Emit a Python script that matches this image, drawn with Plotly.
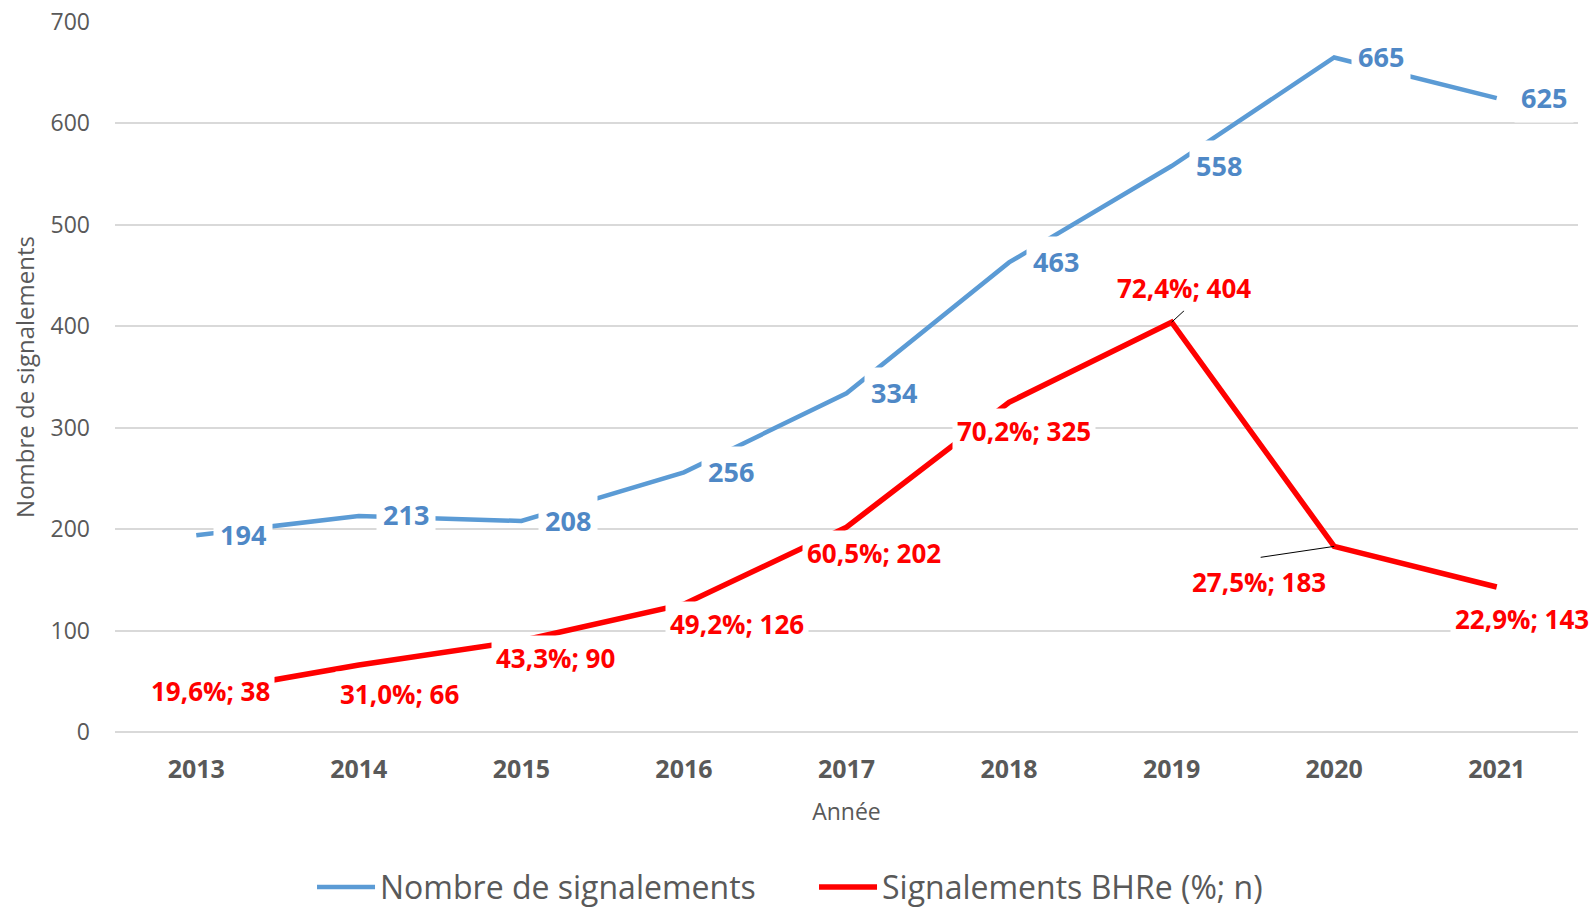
import plotly.graph_objects as go

years = [2013, 2014, 2015, 2016, 2017, 2018, 2019, 2020, 2021]
nombre = [194, 213, 208, 256, 334, 463, 558, 665, 625]
bhre_n = [38, 66, 90, 126, 202, 325, 404, 183, 143]
bhre_pct = ["19,6%", "31,0%", "43,3%", "49,2%", "60,5%", "70,2%", "72,4%", "27,5%", "22,9%"]

BLUE = "#5B9BD5"
BLUE_TXT = "#4F88C6"
RED = "#FF0000"
GREY = "#595959"
FONT = "Open Sans"

# label placement offsets (pixels) for the red data labels: (dx, dy_down)
red_off = [(14, -2), (41, 29), (34, 17), (53, 20), (27, 26), (15, 29),
           (12, -34), (-75, 36), (25, 32)]
# leader lines (pixel offsets of the line's far end), None = no leader
red_leader = [None, None, None, None, None, None, (13, -12), (-74, 11), None]

fig = go.Figure()
fig.add_trace(go.Scatter(x=years, y=nombre, mode="lines", name="Nombre de signalements",
                         line=dict(color=BLUE, width=4.5)))
fig.add_trace(go.Scatter(x=years, y=bhre_n, mode="lines", name="Signalements BHRe (%; n)",
                         line=dict(color=RED, width=5.5)))

ann = []
for x, v in zip(years, nombre):
    ann.append(dict(x=x, y=v, xref="x", yref="y", text=str(v), showarrow=False,
                    xanchor="left", yanchor="middle", xshift=17, yshift=1,
                    bgcolor="white", borderpad=6,
                    font=dict(family=FONT, size=27, color=BLUE_TXT, weight="bold")))
for x, v, p, (dx, dy), lead in zip(years, bhre_n, bhre_pct, red_off, red_leader):
    if lead is not None:
        ann.append(dict(x=x, y=v, xref="x", yref="y", text=" ", showarrow=True,
                        ax=lead[0], ay=lead[1], arrowhead=0, arrowwidth=1,
                        arrowcolor="black", standoff=0, borderpad=0,
                        font=dict(size=1)))
    ann.append(dict(x=x, y=v, xref="x", yref="y", text=f"{p}; {v}", showarrow=False,
                    xanchor="center", yanchor="middle", xshift=dx, yshift=-dy,
                    bgcolor="white", borderpad=4,
                    font=dict(family=FONT, size=26, color=RED, weight="bold")))

fig.update_layout(
    width=1593, height=909,
    margin=dict(l=115, r=15, t=22, b=177, autoexpand=False),
    paper_bgcolor="white", plot_bgcolor="white",
    annotations=ann,
    showlegend=True,
    legend=dict(orientation="h", xref="container", yref="container", x=0.511, y=0.024,
                xanchor="center", yanchor="middle", itemwidth=58, entrywidth=429,
                font=dict(family=FONT, size=32, color=GREY)),
    xaxis=dict(range=[2012.5, 2021.5], dtick=1, tick0=2013, showgrid=False, showline=False,
               zeroline=False, ticks="", automargin=False,
               tickfont=dict(family=FONT, size=25, color=GREY, weight="bold"),
               ticklabelstandoff=20,
               title=dict(text="Année", standoff=19, font=dict(family=FONT, size=23, color=GREY))),
    yaxis=dict(range=[0, 700], dtick=100, showgrid=True, gridcolor="#D9D9D9", gridwidth=1.5,
               zeroline=True, zerolinecolor="#D9D9D9", zerolinewidth=1.5, showline=False, ticks="",
               automargin=False,
               tickfont=dict(family=FONT, size=23, color=GREY), ticklabelstandoff=24,
               title=dict(text="Nombre de signalements", standoff=9,
                          font=dict(family=FONT, size=24, color=GREY))),
)

fig.write_html("out.html", config={"displayModeBar": False},
               post_script="document.body.style.margin='0px';")
